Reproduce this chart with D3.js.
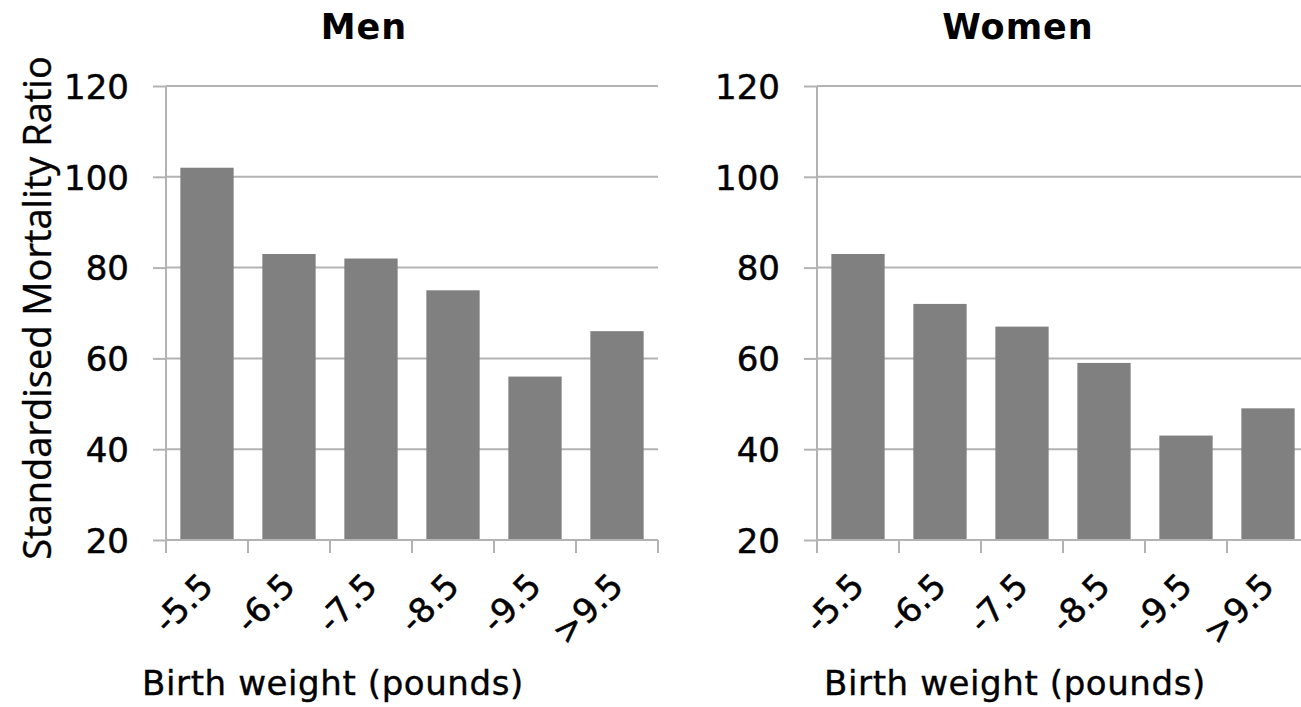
<!DOCTYPE html>
<html>
<head>
<meta charset="utf-8">
<script src="https://cdn.jsdelivr.net/npm/d3@7"></script>
<style>
  html, body { margin: 0; padding: 0; background: #ffffff; }
  svg { display: block; }
</style>
</head>
<body>
<svg id="chart" width="1301" height="707"></svg>
<script>
// ---- Data ----
const categories = ["-5.5", "-6.5", "-7.5", "-8.5", "-9.5", ">9.5"];
const menValues = [102, 83, 82, 75, 56, 66];
const womenValues = [83, 72, 67, 59, 43, 49];
const yTicks = [20, 40, 60, 80, 100, 120];
const panelTitles = ["Men", "Women"];
const yAxisTitle = "Standardised Mortality Ratio";
const xAxisTitle = "Birth weight (pounds)";

// ---- Layout ----
const svg = d3.select("#chart");
const plotTop = 86, plotBottom = 540;
const plotWidth = 492;
const panels = [
  { left: 166, title: panelTitles[0], values: menValues, titleX: 364, xLabelX: 333 },
  { left: 817, title: panelTitles[1], values: womenValues, titleX: 1018, xLabelX: 1015 }
];

const gridColor = "#b3b3b3";
const barColor = "#808080";
const tickFont = "'DejaVu Sans', Verdana, sans-serif";

const y = d3.scaleLinear().domain([20, 120]).range([plotBottom, plotTop]);

panels.forEach(p => {
  const x = d3.scaleBand()
    .domain(categories)
    .range([p.left, p.left + plotWidth])
    .paddingInner(0.35)
    .paddingOuter(0.175);

  const g = svg.append("g");

  // horizontal gridlines
  g.selectAll("line.grid")
    .data(yTicks)
    .join("line")
    .attr("class", "grid")
    .attr("x1", p.left)
    .attr("x2", p.left + plotWidth)
    .attr("y1", d => y(d))
    .attr("y2", d => y(d))
    .attr("stroke", gridColor)
    .attr("stroke-width", 2);

  // y axis with ticks + labels
  const yAxis = d3.axisLeft(y)
    .tickValues(yTicks)
    .tickSize(13)
    .tickPadding(24)
    .tickFormat(d3.format("d"));
  const ya = g.append("g")
    .attr("transform", `translate(${p.left},0)`)
    .call(yAxis);
  ya.select(".domain").remove();
  ya.selectAll(".tick line").attr("stroke", gridColor).attr("stroke-width", 2);
  ya.selectAll(".tick text")
    .attr("fill", "#000")
    .attr("stroke", "#000")
    .attr("stroke-width", 0.5)
    .style("font-family", tickFont)
    .style("font-size", "34px")
    .attr("dy", "0.36em");
  g.append("line")
    .attr("x1", p.left).attr("x2", p.left)
    .attr("y1", plotTop).attr("y2", plotBottom)
    .attr("stroke", gridColor).attr("stroke-width", 2);

  // bars
  g.selectAll("rect.bar")
    .data(categories.map((c, i) => ({ c, v: p.values[i] })))
    .join("rect")
    .attr("class", "bar")
    .attr("x", d => x(d.c))
    .attr("width", x.bandwidth())
    .attr("y", d => y(d.v))
    .attr("height", d => y(20) - y(d.v))
    .attr("fill", barColor);

  // x axis: boundary ticks
  const gap = x.step() - x.bandwidth();
  const boundaries = categories.map(c => x(c) - gap / 2).concat([p.left + plotWidth]);
  g.append("line")
    .attr("x1", p.left).attr("x2", p.left + plotWidth)
    .attr("y1", plotBottom).attr("y2", plotBottom)
    .attr("stroke", gridColor).attr("stroke-width", 2);
  g.selectAll("line.xtick")
    .data(boundaries)
    .join("line")
    .attr("class", "xtick")
    .attr("x1", d => d).attr("x2", d => d)
    .attr("y1", plotBottom).attr("y2", plotBottom + 13)
    .attr("stroke", gridColor).attr("stroke-width", 2);

  // rotated category labels
  g.selectAll("text.xlab")
    .data(categories)
    .join("text")
    .attr("class", "xlab")
    .attr("transform", c => `translate(${x(c) + x.bandwidth() / 2 + 8},${plotBottom + 48}) rotate(-45)`)
    .attr("text-anchor", "end")
    .style("font-family", tickFont)
    .style("font-size", "34px")
    .attr("fill", "#000")
    .attr("stroke", "#000")
    .attr("stroke-width", 0.5)
    .text(c => c);

  // panel title
  g.append("text")
    .attr("x", p.titleX)
    .attr("y", 39)
    .attr("text-anchor", "middle")
    .style("font-family", tickFont)
    .style("font-weight", "bold")
    .style("font-size", "35px")
    .style("letter-spacing", "1px")
    .attr("fill", "#000")
    .text(p.title);

  // x axis title
  g.append("text")
    .attr("x", p.xLabelX)
    .attr("y", 695)
    .attr("text-anchor", "middle")
    .style("font-family", tickFont)
    .style("font-size", "34px")
    .style("letter-spacing", "0.6px")
    .attr("fill", "#000")
    .attr("stroke", "#000")
    .attr("stroke-width", 0.4)
    .text(xAxisTitle);
});

// y axis title (left panel only)
svg.append("text")
  .attr("transform", "translate(51,308) rotate(-90)")
  .attr("text-anchor", "middle")
  .style("font-family", "'Open Sans', sans-serif")
  .style("font-size", "38px")
  .attr("fill", "#000")
  .attr("stroke", "#000")
  .attr("stroke-width", 0.4)
  .text(yAxisTitle);
</script>
</body>
</html>
